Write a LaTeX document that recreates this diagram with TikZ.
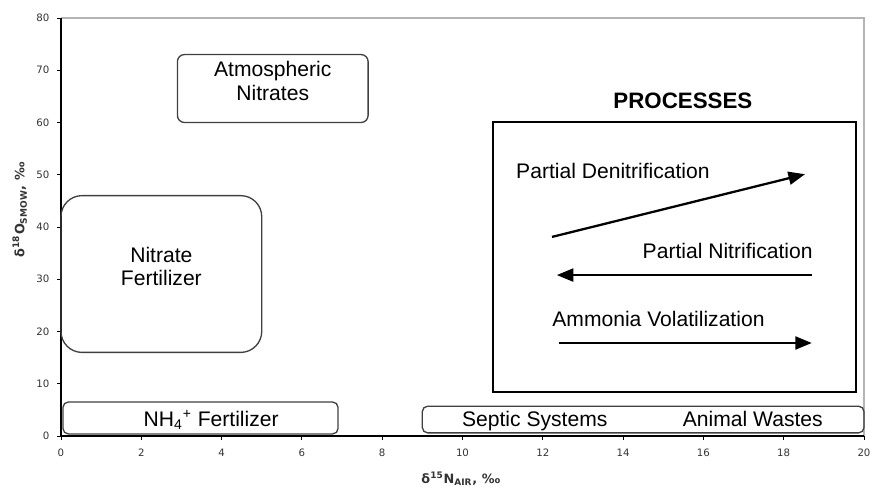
\documentclass[tikz,border=0pt]{standalone}
\usepackage{fontspec}
\setmainfont{Liberation Sans}
\newfontfamily\vfont{DejaVu Sans}
\usetikzlibrary{arrows.meta,positioning,fit}
\definecolor{boxgray}{HTML}{404040}
\definecolor{framegray}{HTML}{B4B4B4}
\definecolor{ticktext}{HTML}{333333}

\begin{document}
\begin{tikzpicture}[
    x=0.803cm,y=0.1045cm,
    src/.style  = {rectangle,draw=boxgray,line width=0.75pt,inner sep=0pt,align=center,
                   font=\fontsize{12}{13.5}\selectfont},
    lbl/.style  = {font=\fontsize{12}{13.5}\selectfont,inner sep=0pt},
    pa/.style   = {-{Triangle[length=3.3mm,width=2.6mm]},line width=1.3pt},
    tk/.style   = {font=\vfont\fontsize{5.8}{7}\selectfont,text=ticktext,inner sep=1pt},
    ax/.style   = {font=\vfont\bfseries\fontsize{7.3}{9}\selectfont,text=ticktext,inner sep=0pt},
  ]
  \useasboundingbox (-1.519,-10.335) rectangle (20.15,83.44);

  \draw[framegray,line width=0.85pt] (0,80) -- (20,80) -- (20,0);
  \draw[line width=0.6pt] (0,80) -- (0,0) -- (20,0);
  \foreach \x in {0,2,...,20} {
    \draw[line width=0.5pt] (\x,0) -- ++(0,-0.08cm);
    \node[tk] (xt\x) at ([yshift=-0.34cm]\x,0) {\x};
  }
  \foreach \y in {0,10,...,80} {
    \draw[line width=0.5pt] (0,\y) -- ++(-0.08cm,0);
    \node[tk,anchor=east] (yt\y) at ([xshift=-0.19cm]0,\y) {\y};
  }

  \node[ax] (xlab) at (9.96,-8.2) {δ\textsuperscript{15}N\textsubscript{AIR}, ‰};
  \node[ax,rotate=90] (ylab) at (-1.03,43.3) {δ\textsuperscript{18}O\textsubscript{SMOW}, ‰};

  \node[src,rounded corners=4pt,fit={(2.9,60) (7.65,73)}] (atm) {Atmospheric\\Nitrates};
  \node[src,rounded corners=0.42cm,fit={(0,16) (5,46)}] (nfe) {Nitrate\\Fertilizer};
  \node[src,rounded corners=3pt,fit={(0.05,0.4) (6.9,6.5)}] (nh4) {};
  \node[src,rounded corners=3pt,fit={(9,0.6) (20,5.7)}] (saw) {};
  \node[lbl,anchor=base] (nh4t) at (3.74,1.9) {NH\textsubscript{4}\textsuperscript{+} Fertilizer};
  \node[lbl,anchor=base] (sept) at (11.8,1.9) {Septic Systems};
  \node[lbl,anchor=base] (anit) at (17.23,1.9) {Animal Wastes};

  \node[draw,line width=1.4pt,inner sep=0pt,fit={(10.76,8.4) (19.8,60.1)}] (prc) {};
  \node[lbl,font=\bfseries\fontsize{12.7}{14}\selectfont] (prct) at (15.49,64.1) {PROCESSES};

  \coordinate (dn0) at (12.23,38.1);
  \coordinate (dn1) at (18.53,50.1);
  \coordinate (ni0) at (18.7,30.8);
  \coordinate (ni1) at (12.35,30.8);
  \coordinate (av0) at (12.4,17.8);
  \coordinate (av1) at (18.7,17.8);

  \draw[pa] (dn0) -- (dn1);
  \draw[pa] (ni0) -- (ni1);
  \draw[pa] (av0) -- (av1);
  \node[lbl,anchor=west] (dnl) at (11.33,50.7) {Partial Denitrification};
  \node[lbl,anchor=east] (nil) at (18.73,35.4) {Partial Nitrification};
  \node[lbl,anchor=west] (avl) at (12.23,22.4) {Ammonia Volatilization};

\end{tikzpicture}
\end{document}
